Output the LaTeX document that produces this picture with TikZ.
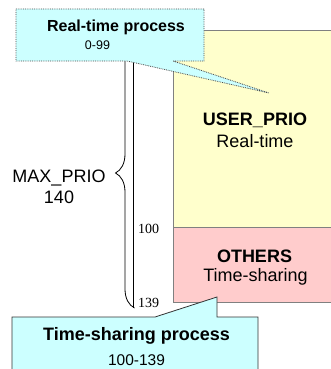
\documentclass[tikz,border=0pt]{standalone}
\usepackage{fontspec}
\setmainfont{Liberation Sans}
\newfontfamily\timesfont{Liberation Serif}
\usetikzlibrary{decorations.pathreplacing}
\definecolor{calloutcyan}{HTML}{CCFFFF}
\definecolor{rtyellow}{HTML}{FFFFCC}
\definecolor{tspink}{HTML}{FFCCCC}
\tikzset{
  band/.style={draw=gray, line width=.8pt},
  callout/.style={fill=calloutcyan, line width=.8pt},
  lbl/.style={inner sep=0pt, anchor=base, font=\fontsize{18}{20}\selectfont},
  boldlbl/.style={lbl, font=\fontsize{18}{20}\selectfont\bfseries},
  numlbl/.style={inner sep=0pt, anchor=base, font=\fontsize{14}{16}\selectfont\timesfont}
}
\begin{document}
\begin{tikzpicture}[x=1pt, y=-1pt]
\clip (0,0) rectangle (331,369);
\fill[white] (0,0) rectangle (331,369);
\draw[band, fill=rtyellow] (173,30) rectangle (345,227);
\draw[band, fill=tspink] (173,227) rectangle (345,302);
\draw[line width=.8pt] (133.5,50) -- (133.5,308);
\draw[line width=.8pt, decorate, decoration={brace, amplitude=19pt}] (134.5,308) -- (134.5,38);
\draw[callout, densely dotted, draw=gray!60!black]
  (16,9) -- (204,9) -- (204,61) -- (173,61) -- (269,93) -- (127,61) -- (16,61) -- cycle;
\draw[callout, draw=black!80]
  (12,317) -- (155,317) -- (217,297) -- (217,317) -- (258,317) -- (258,380) -- (12,380) -- cycle;
\node[boldlbl, font=\fontsize{16}{18}\selectfont\bfseries] (rttitle) at (116,31.5) {Real-time process};
\node[lbl, font=\fontsize{12.5}{14}\selectfont] (rtrange) at (97.5,50) {0-99};
\node[boldlbl] (userprio) at (255,125) {USER\_PRIO};
\node[lbl] (userrt) at (255,147) {Real-time};
\node[boldlbl] (others) at (254.5,262) {OTHERS};
\node[lbl] (othersts) at (255.5,281) {Time-sharing};
\node[lbl] (maxprio) at (59,182) {MAX\_PRIO};
\node[lbl] (maxval) at (59,203) {140};
\node[numlbl] (lvlhund) at (148.5,233) {100};
\node[numlbl] (lvllast) at (148.5,307) {139};
\node[boldlbl] (tstitle) at (136.5,340) {Time-sharing process};
\node[lbl, font=\fontsize{15.5}{17}\selectfont] (tsrange) at (136.5,365) {100-139};
\end{tikzpicture}
\end{document}
